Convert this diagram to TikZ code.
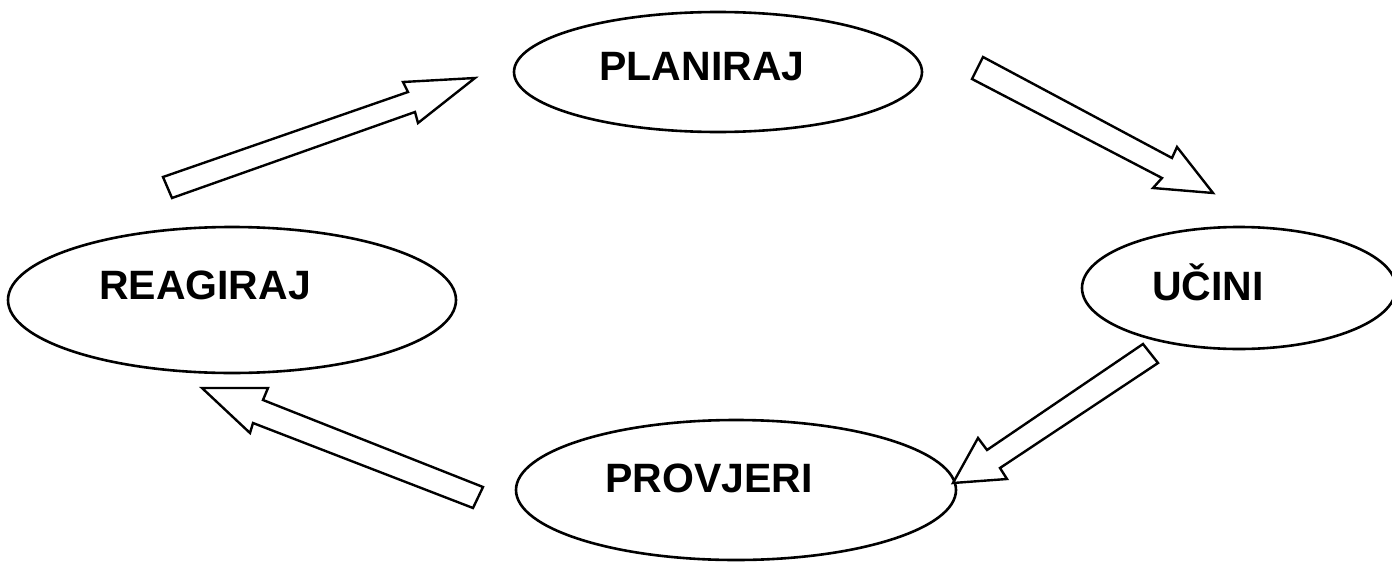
\documentclass[tikz,border=0pt]{standalone}
\usepackage{fontspec}
\setmainfont{Liberation Sans}
\usetikzlibrary{shapes.geometric}
\tikzset{
  oval/.style={draw=black, line width=2.6pt, ellipse, inner sep=0pt},
  lbl/.style={font=\fontsize{41}{41}\selectfont\bfseries, inner sep=0pt, anchor=center},
  blockarrow/.style={draw=black, fill=white, line width=2.4pt, line join=miter}
}
\begin{document}
\begin{tikzpicture}[x=1pt,y=-1pt]
\useasboundingbox (0,0) rectangle (1392,562);
% ellipses
\node[oval, minimum width=408pt, minimum height=120pt] (plan) at (718,72) {};
\node[oval, minimum width=448pt, minimum height=146pt] (reag) at (232,300) {};
\node[oval, minimum width=314pt, minimum height=122pt] (ucin) at (1239,288) {};
\node[oval, minimum width=440pt, minimum height=140pt] (prov) at (736,490) {};
% labels
\node[lbl] (tplan) at (702,67) {PLANIRAJ};
\node[lbl] (treag) at (205,285) {REAGIRAJ};
\node[lbl] (tucin) at (1208,282) {UČINI};
\node[lbl] (tprov) at (709,478) {PROVJERI};
% block arrows
\draw[blockarrow] (163,177) -- (408,92) -- (403,82) -- (475,78) -- (418,123) -- (415,112) -- (172,198) -- cycle;
\draw[blockarrow] (983,57) -- (1172,158) -- (1177,147) -- (1213,193) -- (1153,188) -- (1162,178) -- (972,79) -- cycle;
\draw[blockarrow] (1143,344) -- (987,450) -- (978,438) -- (953,483) -- (1007,479) -- (1000,468) -- (1158,363) -- cycle;
\draw[blockarrow] (483,487) -- (263,400) -- (268,388) -- (202,388) -- (250,433) -- (253,423) -- (473,508) -- cycle;
\end{tikzpicture}
\end{document}
